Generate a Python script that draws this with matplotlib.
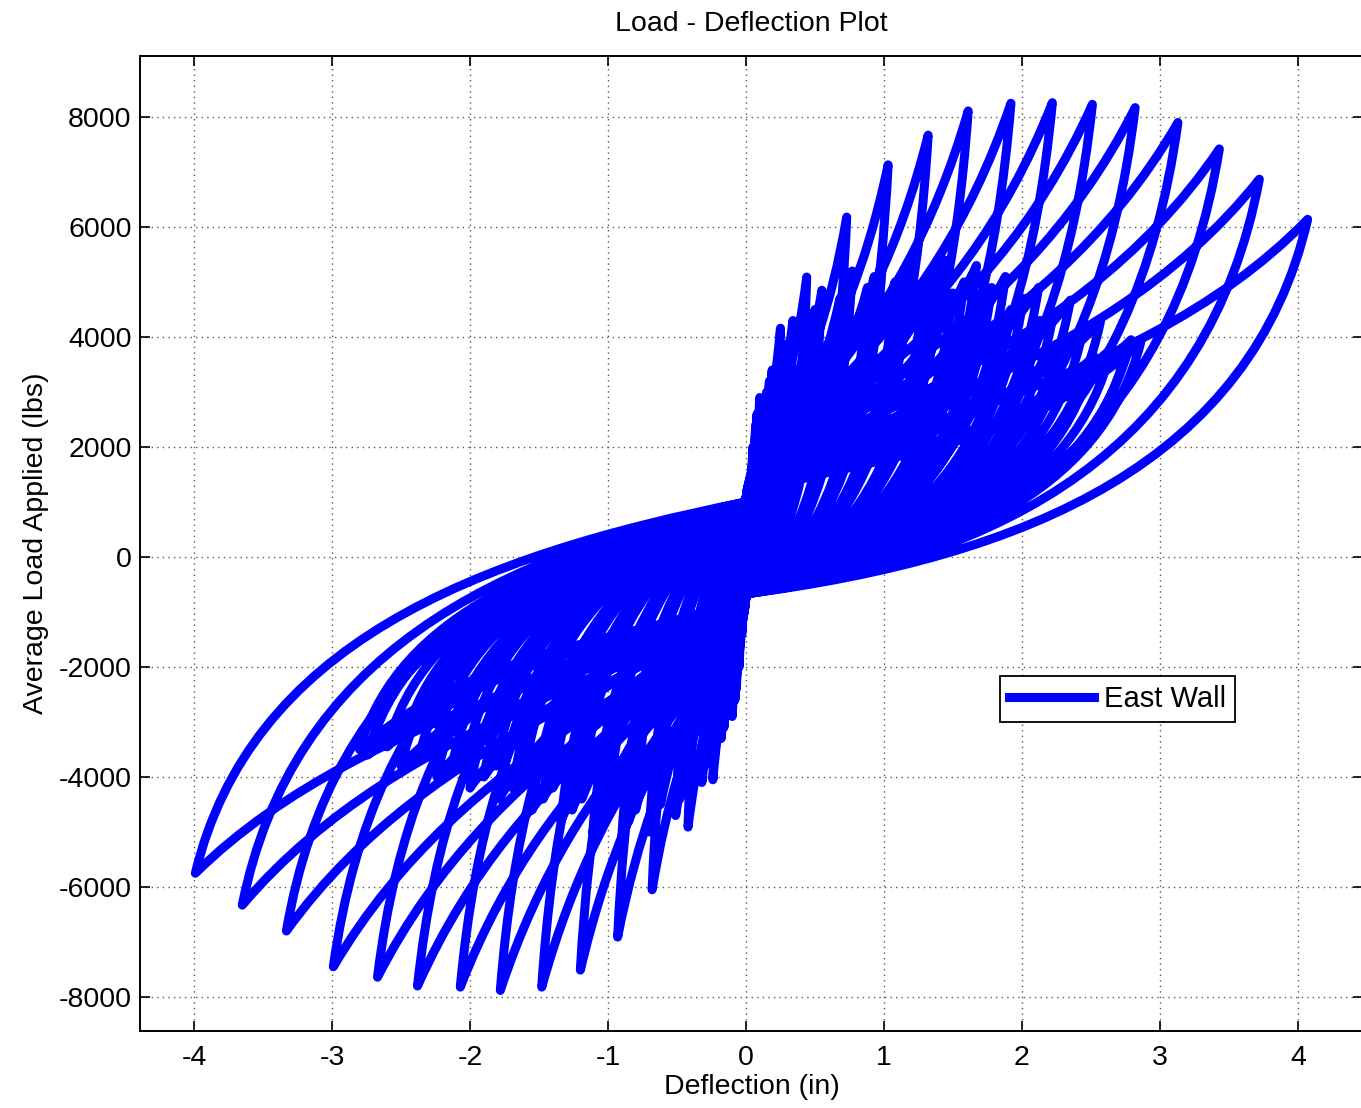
import matplotlib
matplotlib.use("Agg")
import matplotlib.pyplot as plt
from matplotlib.path import Path
from matplotlib.patches import PathPatch
from matplotlib.lines import Line2D

plt.rcParams['font.family'] = ['Liberation Sans', 'DejaVu Sans']
plt.rcParams['axes.unicode_minus'] = False

# primary cycle peaks (deflection in, load lbs)
prim_pos_d = [0.04, 0.07, 0.10, 0.25, 0.44, 0.73, 1.03, 1.32, 1.61, 1.92, 2.22, 2.51, 2.82, 3.13, 3.43, 3.72, 4.07]
prim_pos_f = [1600, 2300, 2900, 4160, 5090, 6180, 7130, 7670, 8110, 8250, 8260, 8230, 8170, 7900, 7420, 6870, 6140]
prim_neg_d = [-0.04, -0.07, -0.10, -0.24, -0.42, -0.68, -0.93, -1.20, -1.48, -1.78, -2.07, -2.38, -2.67, -2.99, -3.33, -3.65, -3.99]
prim_neg_f = [-1600, -2300, -2900, -4050, -4910, -6050, -6910, -7510, -7820, -7880, -7820, -7800, -7640, -7450, -6800, -6330, -5750]

# trailing cycles after each primary cycle
trail_pos_d = [[0.03, 0.03], [0.05, 0.05], [0.08, 0.07], [0.19, 0.17, 0.15], [0.34, 0.31, 0.29],
               [0.55, 0.50, 0.46], [0.77, 0.72, 0.68], [0.99, 0.93, 0.88], [1.21, 1.14, 1.08],
               [1.44, 1.36, 1.29], [1.67, 1.58, 1.50], [1.88, 1.78, 1.70], [2.12, 2.01, 1.92],
               [2.35, 2.23, 2.13], [2.57, 2.44, 2.33], [2.79, 2.65, 2.52], [2.86, 2.75]]
trail_pos_f = [[1400, 1300], [2000, 1900], [2600, 2400], [3400, 3200, 3000], [4300, 3900, 3700],
               [4850, 4500, 4300], [5200, 4900, 4700], [5400, 5100, 4900], [5500, 5200, 5000],
               [5400, 5100, 4900], [5300, 5000, 4800], [5100, 4900, 4700], [4900, 4700, 4500],
               [4670, 4450, 4300], [4300, 4100, 3950], [3950, 3800, 3650], [3900, 3700]]
trail_neg_d = [[-0.03, -0.03], [-0.05, -0.05], [-0.08, -0.07], [-0.18, -0.16, -0.15], [-0.32, -0.30, -0.28],
               [-0.51, -0.48, -0.45], [-0.70, -0.66, -0.62], [-0.90, -0.85, -0.80], [-1.11, -1.05, -0.99],
               [-1.34, -1.26, -1.19], [-1.55, -1.47, -1.40], [-1.79, -1.69, -1.61], [-2.00, -1.90, -1.81],
               [-2.24, -2.13, -2.03], [-2.50, -2.37, -2.26], [-2.74, -2.60, -2.47], [-2.80, -2.70]]
trail_neg_f = [[-1400, -1300], [-2000, -1900], [-2600, -2400], [-3300, -3100, -2900], [-4100, -3800, -3600],
               [-4700, -4400, -4200], [-5000, -4700, -4500], [-5100, -4800, -4600], [-5000, -4700, -4500],
               [-4800, -4600, -4400], [-4600, -4400, -4200], [-4400, -4200, -4000], [-4200, -4000, -3800],
               [-4000, -3800, -3700], [-3800, -3650, -3500], [-3600, -3450, -3300], [-3500, -3300]]

# load where the pinched branches cross zero deflection
pinch_up = 1000
pinch_down = -670


def half_cycle(d, f, start, end):
    # loading branch (start -> peak) then unloading branch (peak -> end), as cubic beziers
    return [(0.12 * d, start + 0.2 * f), (0.68 * d, 0.45 * f), (d, f),
            (0.9 * d, 0.28 * f), (0.5 * d, 0.0), (0.0, end)]


pd, pf, nd, nf = [], [], [], []
for i in range(len(prim_pos_d)):
    pd += [prim_pos_d[i]] + trail_pos_d[i]
    pf += [prim_pos_f[i]] + trail_pos_f[i]
    nd += [prim_neg_d[i]] + trail_neg_d[i]
    nf += [prim_neg_f[i]] + trail_neg_f[i]

verts = [(0.0, pinch_up)]
for i in range(len(pd)):
    verts += half_cycle(pd[i], pf[i], pinch_up, pinch_down)
    verts += half_cycle(nd[i], nf[i], pinch_down, pinch_up)
codes = [Path.MOVETO] + [Path.CURVE4] * (len(verts) - 1)
path = Path(verts, codes)

fig = plt.figure(figsize=(13.61, 11.08), dpi=100)
ax = fig.add_axes([140 / 1361, 1 - 1031 / 1108, 1223 / 1361, 975 / 1108])

ax.add_patch(PathPatch(path, facecolor='none', edgecolor='#0000ff', lw=6.5,
                       joinstyle='round', capstyle='round', zorder=3))

ax.set_xlim(-4.391, 4.471)
ax.set_ylim(-8618, 9109)
ax.set_xticks([-4, -3, -2, -1, 0, 1, 2, 3, 4])
ax.set_yticks([-8000, -6000, -4000, -2000, 0, 2000, 4000, 6000, 8000])
ax.tick_params(direction='in', length=7, width=1.2, top=True, right=True, labelsize=20.5)
ax.tick_params(axis='x', pad=10)
ax.tick_params(axis='y', pad=6)
for s in ax.spines.values():
    s.set_linewidth(1.4)
ax.grid(True, color='0.35', linestyle=(0, (1, 3)), lw=1.0)
ax.set_axisbelow(True)

ax.set_title("Load - Deflection Plot", fontsize=20.5, pad=18)
ax.set_xlabel("Deflection (in)", fontsize=20.5, labelpad=2)
ax.set_ylabel("Average Load Applied (lbs)", fontsize=20.5, labelpad=7)

handle = Line2D([], [], color='#0000ff', lw=6.5)
leg = ax.legend([handle], ["East Wall"], loc='upper left', bbox_to_anchor=(0.7035, 0.364),
                borderaxespad=0, fontsize=21, fancybox=False, framealpha=1,
                edgecolor='black', handlelength=2.9, handletextpad=0.35, borderpad=0.3)
leg.get_frame().set_linewidth(1.3)

fig.savefig("out.png", dpi=100)
